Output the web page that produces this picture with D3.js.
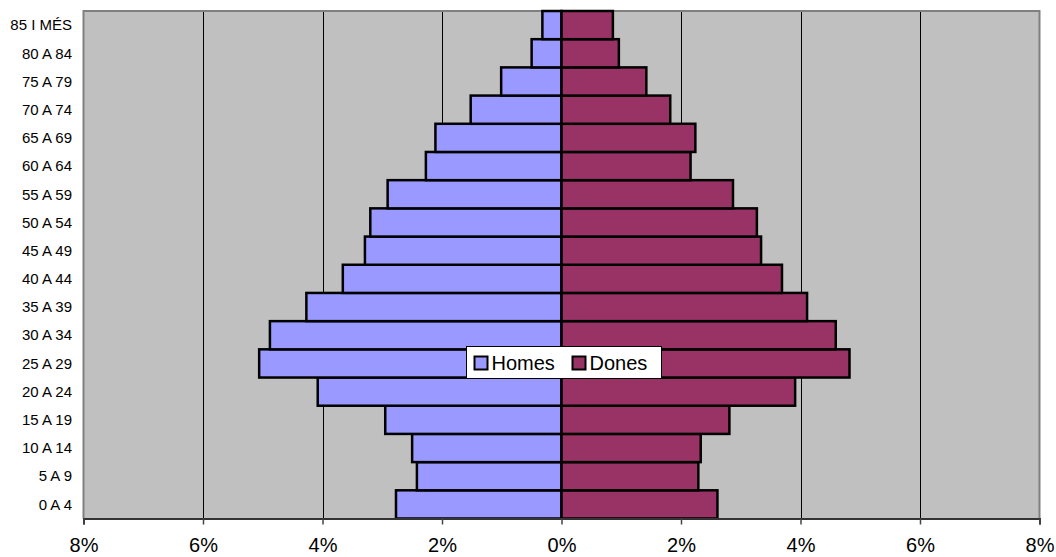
<!DOCTYPE html>
<meta charset="utf-8">
<style>
body { margin: 0; background: #fff; }
svg { font-family: Arial, "Liberation Sans", sans-serif; }
</style>
<body>
<svg width="1056" height="557"></svg>
<script src="https://d3js.org/d3.v7.min.js"></script>
<script>

// age groups, bottom to top
var ages = ["0 A 4", "5 A 9", "10 A 14", "15 A 19", "20 A 24", "25 A 29", "30 A 34",
  "35 A 39", "40 A 44", "45 A 49", "50 A 54", "55 A 59", "60 A 64", "65 A 69",
  "70 A 74", "75 A 79", "80 A 84", "85 I MÉS"];
// percent of population
var homes = [2.77, 2.42, 2.50, 2.95, 4.08, 5.06, 4.88, 4.27, 3.66, 3.29, 3.20, 2.91,
  2.27, 2.11, 1.52, 1.01, 0.50, 0.32];
var dones = [2.61, 2.29, 2.33, 2.81, 3.91, 4.82, 4.59, 4.11, 3.69, 3.34, 3.27, 2.87,
  2.16, 2.24, 1.82, 1.42, 0.96, 0.86];
var xTicks = [-8, -6, -4, -2, 0, 2, 4, 6, 8];
var series = ["Homes", "Dones"];
var colors = ["#9999ff", "#993366"];

var svg = d3.select("svg");

var x = d3.scaleLinear().domain([-8, 8]).range([83.5, 1039.5]);
var y = d3.scaleBand().domain(ages.slice().reverse()).range([11, 518.5]).padding(0);

// plot background
svg.append("rect")
    .attr("x", x(-8)).attr("y", y.range()[0])
    .attr("width", x(8) - x(-8)).attr("height", y.range()[1] - y.range()[0])
    .attr("fill", "#c0c0c0");

// grid
svg.selectAll(".grid")
    .data(xTicks.filter(function(d) { return Math.abs(d) < 8; }))
  .enter().append("line")
    .attr("x1", function(d) { return Math.round(x(d)) + 0.5; })
    .attr("x2", function(d) { return Math.round(x(d)) + 0.5; })
    .attr("y1", y.range()[0]).attr("y2", y.range()[1])
    .attr("stroke", "#000").attr("stroke-width", 1);

// plot border (left, top, right)
svg.append("path")
    .attr("d", "M" + x(-8) + "," + y.range()[1] + "V" + y.range()[0] + "H" + x(8) + "V" + y.range()[1])
    .attr("fill", "none").attr("stroke", "#808080").attr("stroke-width", 2);

var rows = ages.map(function(a, i) { return { age: a, h: homes[i], d: dones[i] }; });

svg.selectAll(".homes")
    .data(rows)
  .enter().append("rect")
    .attr("x", function(d) { return x(-d.h); })
    .attr("y", function(d) { return y(d.age); })
    .attr("width", function(d) { return x(0) - x(-d.h); })
    .attr("height", y.bandwidth())
    .attr("fill", colors[0])
    .attr("stroke", "#000").attr("stroke-width", 2.5);

svg.selectAll(".dones")
    .data(rows)
  .enter().append("rect")
    .attr("x", x(0))
    .attr("y", function(d) { return y(d.age); })
    .attr("width", function(d) { return x(d.d) - x(0); })
    .attr("height", y.bandwidth())
    .attr("fill", colors[1])
    .attr("stroke", "#000").attr("stroke-width", 2.5);

// bottom axis
var xAxis = d3.axisBottom(x)
    .tickValues(xTicks)
    .tickSize(6)
    .tickPadding(13)
    .tickFormat(function(d) { return Math.abs(d) + "%"; });

var ax = svg.append("g")
    .attr("transform", "translate(0," + y.range()[1] + ")")
    .call(xAxis);
ax.select(".domain").attr("stroke", "#333").attr("stroke-width", 2);
ax.selectAll(".tick line").attr("stroke", "#444").attr("stroke-width", 1.5);
ax.selectAll("text")
    .attr("font-family", "Arial, 'Liberation Sans', sans-serif")
    .attr("font-size", 20).attr("fill", "#000");

// y labels
svg.selectAll(".ylab")
    .data(ages)
  .enter().append("text")
    .attr("x", 72)
    .attr("y", function(d) { return y(d) + y.bandwidth() / 2; })
    .attr("dy", "0.35em")
    .attr("text-anchor", "end")
    .attr("font-size", 15)
    .text(function(d) { return d; });

// legend
var lg = svg.append("g").attr("transform", "translate(466.5,346.5)");
lg.append("rect")
    .attr("width", 195).attr("height", 32)
    .attr("fill", "#fff").attr("stroke", "#000").attr("stroke-width", 1);
var item = lg.selectAll(".item")
    .data(series)
  .enter().append("g")
    .attr("transform", function(d, i) { return "translate(" + (8 + i * 98) + ",0)"; });
item.append("rect")
    .attr("y", 10).attr("width", 13).attr("height", 13)
    .attr("fill", function(d, i) { return colors[i]; })
    .attr("stroke", "#000").attr("stroke-width", 2);
item.append("text")
    .attr("x", 17).attr("y", 16).attr("dy", "0.35em")
    .attr("font-size", 20)
    .text(function(d) { return d; });

</script>
</body>
